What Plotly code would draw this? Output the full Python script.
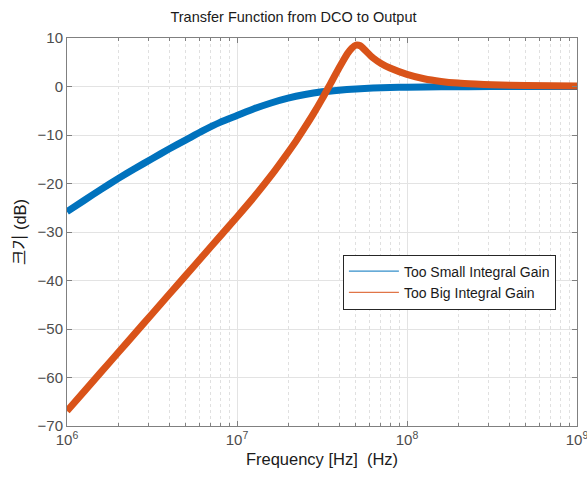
import plotly.graph_objects as go

# Magnitude response, DCO -> output (log10 frequency in Hz, magnitude in dB)
small_logf = [6.0, 6.1, 6.2, 6.3, 6.4, 6.5, 6.6, 6.7, 6.8, 6.9, 7.0, 7.1, 7.2, 7.3, 7.4, 7.5, 7.6, 7.7,
              7.8, 7.9, 8.0, 8.2, 8.5, 9.0]
small_db = [-25.8, -23.5, -21.2, -19.0, -16.9, -14.9, -12.9, -11.0, -9.1, -7.4, -6.0, -4.6, -3.4, -2.4, -1.65,
            -1.1, -0.75, -0.5, -0.33, -0.22, -0.14, -0.06, -0.02, 0.0]

big_logf = [6.0, 6.1, 6.2, 6.3, 6.4, 6.5, 6.6, 6.7, 6.8, 6.9, 7.0, 7.1, 7.2, 7.3, 7.35, 7.4, 7.45, 7.5,
            7.55, 7.6, 7.65, 7.675, 7.7, 7.725, 7.75, 7.8, 7.85, 7.9, 8.0, 8.1, 8.2, 8.3, 8.4, 8.5, 8.7, 9.0]
big_db = [-66.9, -62.9, -58.9, -54.9, -50.9, -46.9, -42.9, -38.9, -34.9, -30.9, -26.9, -22.8, -18.4, -13.6,
          -11.1, -8.4, -5.6, -2.6, 0.6, 3.8, 6.8, 7.9, 8.55, 8.4, 7.6, 5.9, 4.7, 3.8, 2.5, 1.6, 1.05, 0.7,
          0.5, 0.35, 0.2, 0.1]

series_names = ["Too Small Integral Gain", "Too Big Integral Gain"]
series_colors = ["#0072BD", "#D95319"]

x_ticks = [1e6, 1e7, 1e8, 1e9]
x_ticktext = ["10<sup>6</sup>", "10<sup>7</sup>", "10<sup>8</sup>", "10<sup>9</sup>"]
y_ticks = [-70, -60, -50, -40, -30, -20, -10, 0, 10]

minor_x = [m * 10 ** d for d in (6, 7, 8) for m in range(2, 10)]

fig = go.Figure()
curves = [(small_logf, small_db), (big_logf, big_db)]
for (lf, db), name, color in zip(curves, series_names, series_colors):
    fig.add_trace(go.Scatter(
        x=[10 ** v for v in lf], y=db, mode="lines", name=name,
        line=dict(color=color, width=7, shape="spline", smoothing=0.7),
        showlegend=False, hoverinfo="skip",
    ))
# thin legend entries
for name, color in zip(series_names, series_colors):
    fig.add_trace(go.Scatter(x=[None], y=[None], mode="lines", name=name,
                             line=dict(color=color, width=1)))

axis_color = "#808080"
base_font = "Liberation Sans, Arial, sans-serif"
tick_font = dict(family=base_font, size=15, color="#4d4d4d")

fig.update_layout(
    width=587, height=482,
    margin=dict(l=67, r=10, t=38, b=56, autoexpand=False),
    paper_bgcolor="white", plot_bgcolor="white",
    title=dict(text="Transfer Function from DCO to Output", x=0.5, xanchor="center",
               y=1 - 17 / 482, yanchor="middle",
               font=dict(family=base_font, size=14.5, color="#1a1a1a")),
    legend=dict(x=0.541, y=0.442, xanchor="left", yanchor="top",
                bgcolor="white", bordercolor="#262626", borderwidth=1,
                font=dict(family=base_font, size=14, color="#1a1a1a"),
                tracegroupgap=0, itemwidth=50),
    font=dict(family=base_font),
)

fig.update_xaxes(
    type="log", range=[6, 9.00001], automargin=False,
    tickmode="array", tickvals=x_ticks, ticktext=x_ticktext,
    tickfont=tick_font, ticklabeloverflow="allow",
    ticks="inside", ticklen=5, tickcolor=axis_color,
    showline=True, linecolor=axis_color, linewidth=1, mirror="ticks",
    showgrid=True, gridcolor="#e3e3e3", gridwidth=1,
    zeroline=False,
    minor=dict(tickmode="array", tickvals=minor_x, ticks="inside", ticklen=3,
               tickcolor=axis_color, showgrid=True, gridcolor="#e0e0e0", griddash="dot", gridwidth=1),
    title=dict(text="Frequency [Hz]  (Hz)", standoff=6,
               font=dict(family=base_font, size=16.5, color="#1a1a1a")),
)
fig.update_yaxes(
    range=[-70, 10], tickmode="array", tickvals=y_ticks, automargin=False,
    tickfont=tick_font,
    ticks="inside", ticklen=5, tickcolor=axis_color,
    showline=True, linecolor=axis_color, linewidth=1, mirror="ticks",
    showgrid=True, gridcolor="#e3e3e3", gridwidth=1,
    zeroline=False,
    title=dict(text="크기 (dB)", standoff=6,
               font=dict(family="Liberation Sans, Noto Sans CJK KR, sans-serif", size=16.5, color="#1a1a1a")),
)

fig.write_html("out.html")
